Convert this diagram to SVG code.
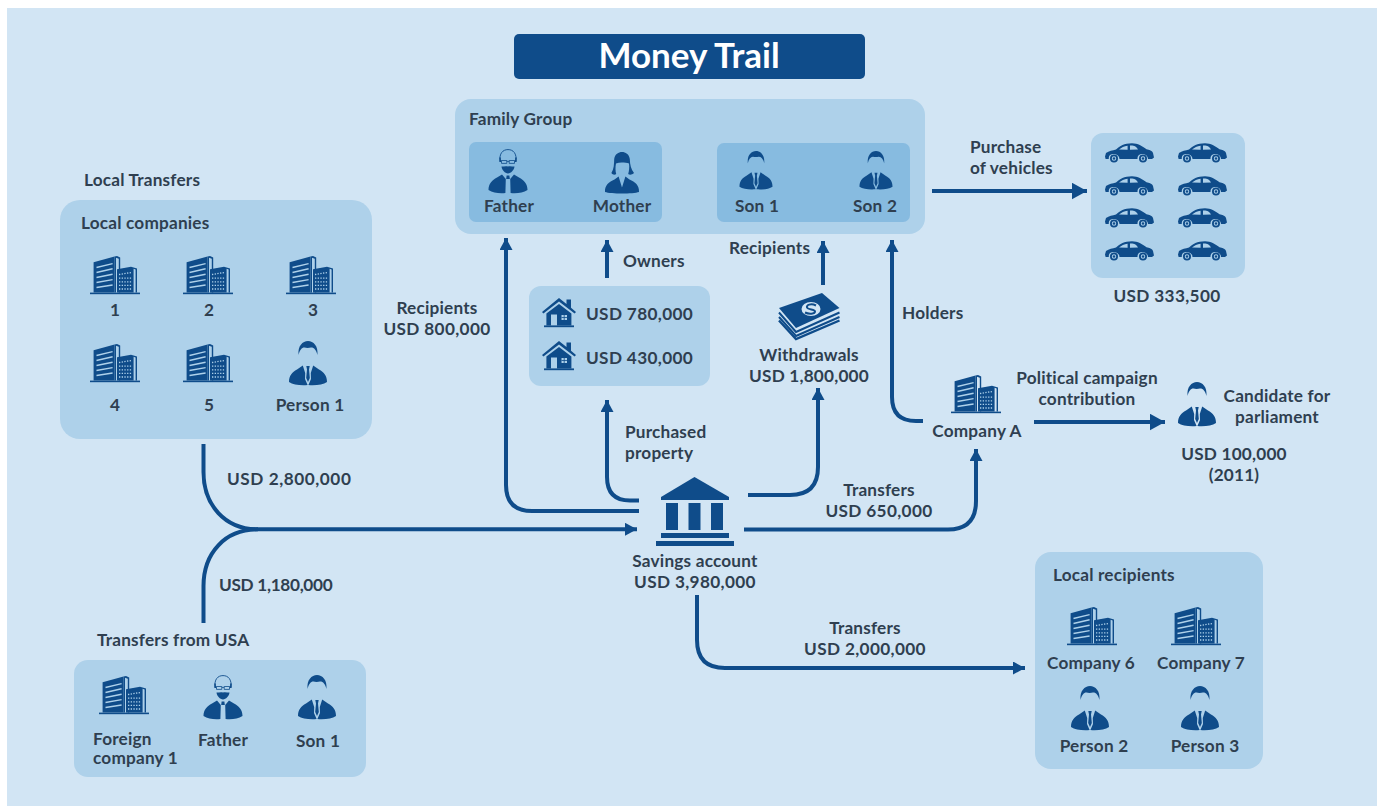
<svg xmlns="http://www.w3.org/2000/svg" width="1377" height="806" viewBox="0 0 1377 806">
<style>
.t{font-family:"Lato","Open Sans","Liberation Sans",sans-serif;font-weight:700;font-size:17.2px;letter-spacing:.2px;fill:#2f3f50}
.u{letter-spacing:.35px}
.m{text-anchor:middle}
.p{fill:#aed1ea}
.q{fill:#87bbe0}
.c{fill:none;stroke:#0f4c8a;stroke-width:4}
.i{fill:#0f4c8a}
</style>
<defs>
<marker id="a" markerUnits="userSpaceOnUse" markerWidth="14" markerHeight="14" refX="12" refY="6.500" orient="auto"><path d="M0 0L12 6.500L0 13Z" fill="#0f4c8a"/></marker>
<marker id="b" markerUnits="userSpaceOnUse" markerWidth="17" markerHeight="19" refX="15.500" refY="8.500" orient="auto"><path d="M0 0L15.500 8.500L0 17Z" fill="#0f4c8a"/></marker>
<symbol id="bld" viewBox="0 0 50 39" width="50" height="39" overflow="visible">
<g class="i"><rect y="36.6" width="50" height="1.6"/><path d="M3.6 6.2L24.5 .6V36.6H3.600Z"/><path d="M24.5 .6L27 0L30.2 1.6V36.6H28.800V2.800L26 1.800V36.6H24.500Z"/><path d="M27 13.2L41 10.8L47 12.4V36.6H45.600V13.600L43.600 12.800V36.600H27Z"/></g>
<g stroke="#aed1ea" stroke-width="1.4" fill="none"><path d="M6.500 11.500L22.600 7.600M6.500 16.500L22.600 12.800M6.500 21.500L22.600 18.200M6.500 26.500L22.600 23.600M6.500 31.500L22.600 29"/></g>
<g stroke="#aed1ea" stroke-width="1.3" stroke-dasharray="1.300 1.400" fill="none"><path d="M29 18.500L41.500 16.500M29 22.200H41.500M29 25.800H41.500M29 29.400H41.500M29 33H41.500"/></g>
</symbol>
<g id="son">
<path class="i" d="M-9.400 14C-10.400 5 -5.400 0 0 0S10.400 5 9.400 14C8.400 9 5.800 6.400 3 6.600C1 7 -2 7 -3.400 6.600C-6 6.400 -8.400 9 -9.400 14Z"/>
<path class="i" d="M-19 41C-19 35 -16 31 -11 28.500L-5.200 24.500L-2.800 32L-3 38L-.4 44C-8 44.600 -15 43.600 -19 41ZM19 41C19 35 16 31 11 28.500L5.200 24.500L2.800 32L3 38L.4 44C8 44.600 15 43.600 19 41Z"/>
<path class="i" d="M-1.700 25H1.700L1 28.500L1.800 37L0 41L-1.800 37L-1 28.500Z"/>
</g>
<g id="dad">
<path d="M-8 13C-9 4 -5 .6 0 .6S9 4 8 13" fill="none" stroke="#0f4c8a" stroke-width=".9"/>
<path class="i" d="M-8.800 8.500L-7.200 8.500L-7 13L-8.200 13ZM8.800 8.500L7.200 8.500L7 13L8.200 13Z"/>
<path d="M-6.500 11.500H-1.200V14.400H-6.500ZM1.200 11.500H6.500V14.400H1.200ZM-1.200 12.400H1.200M-8.400 11.800H-6.500M6.500 11.800H8.400" fill="none" stroke="#0f4c8a" stroke-width=".8"/>
<path class="i" d="M-6.500 17.600C-4 17.600 -2 17 0 17.600C2 17 4 17.600 6.500 17.600C6 21.500 3 24.400 0 24.400S-6 21.500 -6.500 17.600Z"/>
<path class="i" d="M-19.500 41C-19.500 35 -16 31 -11 28.500L-6 25.600L-2.200 30L-2.600 44C-9 44.800 -15 43.600 -19.500 41ZM19.500 41C19.500 35 16 31 11 28.500L6 25.600L2.200 30L2.600 44C9 44.800 15 43.600 19.500 41Z"/>
<path class="i" d="M-1.400 26.500H1.400L1.800 30H-1.800Z"/>
</g>
<g id="mom">
<path class="i" d="M-10.600 21C-8 17 -8 12 -7.800 7C-7 2 -3.500 0 0 0S7 2 7.800 7C8 13 9 17 12 21C10 23 7.400 23 6.200 22C7 19 7.600 16 7 11.600C4 10.600 -2 10 -6 11.400C-6.800 15 -6.600 19 -5.800 22C-7 23 -9.400 23 -10.600 21Z"/>
<path class="i" d="M-17 40C-17.400 33 -13 30 -7.500 27.500L-3.400 24.400L0 35.600L3.400 24.400L7.500 27.500C13 30 17.400 33 17 40C11 42 -11 42 -17 40Z"/>
</g>
<symbol id="home" viewBox="0 0 34 30" width="34" height="30" overflow="visible">
<path class="i" d="M0 14L17 0L24.500 6V1.600H29V9.800L34 14L32.600 15.600L17 3.400L1.400 15.600Z"/>
<path class="i" fill-rule="evenodd" d="M4.400 15.600L17 6L29.400 15.600V27.400H4.400ZM9 16.500V27.400H15V16.500ZM19.500 17V22H25V17Z"/>
<rect class="i" x="2" y="27.400" width="30" height="1.800"/>
<path d="M19.500 19.500H25M22.200 17V22" stroke="#0f4c8a" stroke-width=".8"/>
<rect x="10" y="20.500" width="1.600" height="1.600" fill="#aed1ea"/>
</symbol>
<symbol id="car" viewBox="0 0 49 20" width="49" height="20" overflow="visible">
<path class="i" d="M0 13.500L1 10C4 7.800 7.500 7.500 11 6.500C15 3 19 .2 27 .2C33 .2 37 3 41.500 6.200C44 6.800 47.500 7.500 48 10L49 14.500L47 16H43C43 11 36 9.500 33.500 12.500C32.600 13.600 32.400 15 32.500 16H14.500C14.600 11 7 9.500 4.600 12.500C3.800 13.600 3.700 15 3.800 16H.6Z"/>
<path d="M14 6.600C16.500 4.600 19 3.200 22.600 2.800V6.800ZM25 2.600C28 2.600 31 2.800 33 6.600L25 6.800Z" fill="#aed1ea"/>
<circle cx="9" cy="15.500" r="3.100" fill="none" stroke="#0f4c8a" stroke-width="1.800"/><circle cx="9" cy="15.500" r="1.200" class="i"/>
<circle cx="38" cy="15.500" r="3.100" fill="none" stroke="#0f4c8a" stroke-width="1.800"/><circle cx="38" cy="15.500" r="1.200" class="i"/>
</symbol>
</defs>
<rect width="1377" height="806" fill="#fff"/>
<rect x="7" y="8" width="1370" height="798" fill="#d2e5f4"/>

<g id="title"><rect x="514" y="34" width="351" height="45" rx="5" fill="#0f4c8a"/><text x="689" y="68" text-anchor="middle" style="font-family:'Lato','Open Sans',sans-serif;font-weight:700;font-size:35px;fill:#fff">Money Trail</text></g>

<g id="connectors" class="c">
<path d="M203.500 444V472C203.500 505 225 529.300 258 529.300H637" marker-end="url(#a)"/>
<path d="M203.500 623V586C203.500 553 225 529.300 258 529.300"/>
<path d="M639 511H532Q506 511 506 485V238" marker-end="url(#a)"/>
<path d="M639 500.500H630Q607 500.500 607 477V400" marker-end="url(#a)"/>
<path d="M607 278V240" marker-end="url(#a)"/>
<path d="M748 495H790Q818 495 818 467V388" marker-end="url(#a)"/>
<path d="M823 285V241" marker-end="url(#a)"/>
<path d="M923 421H916Q892 421 892 397V240" marker-end="url(#a)"/>
<path d="M1034 422H1165" marker-end="url(#b)"/>
<path d="M744 529.500H948Q976 529.500 976 501V449" marker-end="url(#a)"/>
<path d="M932 191H1087" marker-end="url(#b)"/>
<path d="M697 595V640Q697 668 725 668H1025" marker-end="url(#a)"/>
</g>

<g id="family-group"><rect class="p" x="455" y="99" width="470" height="135" rx="16"/><text class="t" x="469" y="125">Family Group</text></g>
<g id="parents"><rect class="q" x="469" y="142" width="193" height="80" rx="7"/>
<use href="#dad" x="508" y="149"/><text class="t m" x="509" y="212">Father</text>
<use href="#mom" x="622" y="152"/><text class="t m" x="622" y="212">Mother</text></g>
<g id="sons"><rect class="q" x="717" y="143" width="193" height="79" rx="7"/>
<use href="#son" transform="translate(756 151) scale(.87)"/><text class="t m" x="757" y="212">Son 1</text>
<use href="#son" transform="translate(876 151) scale(.87)"/><text class="t m" x="875" y="212">Son 2</text></g>

<g id="local-companies"><text class="t" x="84" y="186">Local Transfers</text>
<rect class="p" x="60" y="200" width="312" height="239" rx="20"/><text class="t" x="81" y="229">Local companies</text>
<use href="#bld" x="90" y="256"/><text class="t m" x="115" y="316">1</text>
<use href="#bld" x="183" y="256"/><text class="t m" x="209" y="316">2</text>
<use href="#bld" x="286" y="256"/><text class="t m" x="313" y="316">3</text>
<use href="#bld" x="90" y="344"/><text class="t m" x="115" y="411">4</text>
<use href="#bld" x="183" y="344"/><text class="t m" x="209" y="411">5</text>
<use href="#son" x="308" y="341"/><text class="t m" x="310" y="411">Person 1</text></g>

<g id="vehicles"><rect class="p" x="1091" y="133" width="154" height="145" rx="12"/>
<use href="#car" x="1105" y="143"/><use href="#car" x="1178" y="143"/>
<use href="#car" x="1105" y="176"/><use href="#car" x="1178" y="176"/>
<use href="#car" x="1105" y="208"/><use href="#car" x="1178" y="208"/>
<use href="#car" x="1105" y="241"/><use href="#car" x="1178" y="241"/>
<text class="t u m" x="1167" y="302">USD 333,500</text></g>

<g id="property"><rect class="p" x="529" y="286" width="181" height="100" rx="12"/>
<use href="#home" x="542" y="298"/><text class="t u" x="586" y="320">USD 780,000</text>
<use href="#home" x="542" y="341"/><text class="t u" x="586" y="364">USD 430,000</text></g>

<g id="withdrawals">
<path class="i" d="M779 308L822 293L839.500 308L796 328Z"/>
<path d="M779 312.500L796 332L839.500 312.500M779 317L796 336L839.500 317" fill="none" stroke="#0f4c8a" stroke-width="2"/>
<path d="M779 320.500L796 339L839.500 320.500" fill="none" stroke="#0f4c8a" stroke-width="2.400"/>
<ellipse cx="811" cy="309" rx="9.500" ry="7" fill="#d2e5f4"/>
<path d="M816 305.500C811 303 806 305 807 307.500C808 310 815 309 815 311.500C815 314 809 314.500 805 312.500" fill="none" stroke="#0f4c8a" stroke-width="2"/>
<text class="t m" x="809" y="361">Withdrawals</text><text class="t m" x="809" y="382">USD 1,800,000</text></g>

<g id="savings-account">
<path class="i" d="M694.500 477L729 497V500H661V497Z"/>
<rect class="i" x="666" y="503" width="12" height="27"/><rect class="i" x="688.500" y="503" width="12" height="27"/><rect class="i" x="711" y="503" width="12" height="27"/>
<rect class="i" x="661" y="533" width="68" height="5"/><rect class="i" x="656" y="541" width="78" height="5"/>
<text class="t m" x="695" y="567">Savings account</text><text class="t u m" x="695" y="588">USD 3,980,000</text></g>

<g id="company-a"><use href="#bld" x="951" y="375"/><text class="t m" x="977" y="437">Company A</text></g>
<g id="candidate"><use href="#son" x="1197" y="382"/><text class="t m" x="1277" y="402">Candidate for</text><text class="t m" x="1277" y="423">parliament</text><text class="t m" x="1234" y="460">USD 100,000</text><text class="t m" x="1234" y="481">(2011)</text></g>

<g id="usa-transfers"><text class="t" x="97" y="646">Transfers from USA</text>
<rect class="p" x="74" y="660" width="292" height="117" rx="14"/>
<use href="#bld" x="99" y="676"/><text class="t" x="93" y="745">Foreign</text><text class="t" x="93" y="764">company 1</text>
<use href="#dad" x="223" y="675"/><text class="t m" x="223" y="746">Father</text>
<use href="#son" x="317" y="675"/><text class="t m" x="318" y="747">Son 1</text></g>

<g id="local-recipients"><rect class="p" x="1035" y="552" width="228" height="217" rx="16"/><text class="t" x="1053" y="581">Local recipients</text>
<use href="#bld" x="1067" y="607"/><text class="t m" x="1091" y="669">Company 6</text>
<use href="#bld" x="1171" y="607"/><text class="t m" x="1201" y="669">Company 7</text>
<use href="#son" x="1090" y="686"/><text class="t m" x="1094" y="752">Person 2</text>
<use href="#son" x="1200" y="686"/><text class="t m" x="1205" y="752">Person 3</text></g>

<g id="labels">
<text class="t" x="970" y="153">Purchase</text>
<text class="t" x="970" y="174">of vehicles</text>
<text class="t" x="729" y="254">Recipients</text>
<text class="t" x="623" y="267">Owners</text>
<text class="t" x="902" y="319">Holders</text>
<text class="t m" x="437" y="314">Recipients</text><text class="t u m" x="437" y="335">USD 800,000</text>
<text class="t" x="625" y="438">Purchased</text><text class="t" x="625" y="459">property</text>
<text class="t" x="227" y="485" style="letter-spacing:.55px">USD 2,800,000</text>
<text class="t" x="219" y="591" style="letter-spacing:-.3px">USD 1,180,000</text>
<text class="t m" x="879" y="496">Transfers</text><text class="t u m" x="879" y="517">USD 650,000</text>
<text class="t m" x="865" y="634">Transfers</text><text class="t u m" x="865" y="655">USD 2,000,000</text>
<text class="t m" x="1087" y="384">Political campaign</text><text class="t m" x="1087" y="405">contribution</text>
</g>
</svg>
